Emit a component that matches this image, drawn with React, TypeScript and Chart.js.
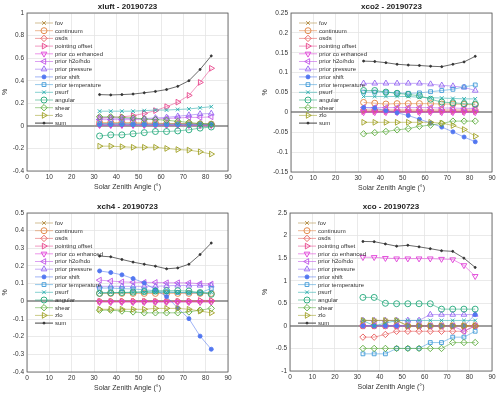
import React, { useEffect, useRef } from "react";
import { Chart, registerables } from "chart.js";
Chart.register(...registerables);

// ---------- data ----------
const sza = [32.5, 37.5, 42.5, 47.5, 52.5, 57.5, 62.5, 67.5, 72.5, 77.5, 82.5];
const seriesNames = [
  "fov", "continuum", "osds", "pointing offset", "prior co enhanced", "prior h2o/hdo",
  "prior pressure", "prior shift", "prior temperature", "psurf", "angular", "shear", "zlo", "sum",
];

// xluft
const xluftFov = [0.02, 0.02, 0.02, 0.02, 0.02, 0.02, 0.02, 0.02, 0.02, 0.02, 0.02];
const xluftContinuum = [0.03, 0.03, 0.03, 0.03, 0.025, 0.025, 0.02, 0.02, 0.02, 0.015, 0.015];
const xluftOsds = [0.01, 0.01, 0.01, 0.01, 0.01, 0.01, 0.01, 0.01, 0.01, 0.01, 0.01];
const xluftPointing = [0.07, 0.075, 0.08, 0.09, 0.11, 0.135, 0.17, 0.21, 0.27, 0.385, 0.51];
const xluftCoEnh = [0.005, 0.005, 0.005, 0.005, 0.005, 0.005, 0.005, 0.005, 0.005, 0.005, 0.005];
const xluftH2o = [0.055, 0.055, 0.055, 0.055, 0.06, 0.06, 0.065, 0.07, 0.075, 0.075, 0.08];
const xluftPressure = [0.07, 0.07, 0.065, 0.065, 0.065, 0.07, 0.075, 0.085, 0.095, 0.105, 0.11];
const xluftShift = [0.01, 0.01, 0.01, 0.01, 0.01, 0.01, 0.01, 0.01, 0.01, 0.01, 0.01];
const xluftTemp = [0.02, 0.02, 0.02, 0.015, 0.015, 0.015, 0.015, 0.015, 0.015, 0.015, 0.015];
const xluftPsurf = [0.13, 0.13, 0.13, 0.13, 0.135, 0.14, 0.14, 0.145, 0.15, 0.16, 0.17];
const xluftAngular = [-0.09, -0.08, -0.08, -0.07, -0.06, -0.05, -0.05, -0.045, -0.035, -0.02, -0.01];
const xluftShear = [0.08, 0.08, 0.075, 0.07, 0.06, 0.055, 0.05, 0.04, 0.03, 0.02, 0.015];
const xluftZlo = [-0.18, -0.18, -0.185, -0.19, -0.19, -0.19, -0.2, -0.21, -0.215, -0.23, -0.25];
const xluftSum = [0.277, 0.274, 0.277, 0.282, 0.293, 0.305, 0.322, 0.35, 0.4, 0.5, 0.62];

// xco2
const xco2Fov = [0.003, 0.003, 0.003, 0.003, 0.003, 0.003, 0.003, 0.003, 0.003, 0.003, 0.003];
const xco2Continuum = [0.025, 0.023, 0.021, 0.022, 0.022, 0.022, 0.022, 0.021, 0.021, 0.02, 0.019];
const xco2Osds = [0.006, 0.006, 0.006, 0.006, 0.006, 0.006, 0.006, 0.006, 0.006, 0.006, 0.006];
const xco2Pointing = [0.002, 0.002, 0.002, 0.002, 0.002, 0.002, 0.002, 0.002, 0.002, 0.002, 0.002];
const xco2CoEnh = [0.0, 0.0, 0.0, 0.0, 0.0, 0.0, 0.0, 0.0, 0.0, 0.0, 0.0];
const xco2H2o = [0.012, 0.012, 0.012, 0.012, 0.012, 0.012, 0.012, 0.011, 0.011, 0.01, 0.01];
const xco2Pressure = [0.073, 0.073, 0.073, 0.073, 0.073, 0.073, 0.071, 0.068, 0.066, 0.063, 0.055];
const xco2Shift = [0.012, 0.011, 0.004, -0.001, -0.008, -0.017, -0.027, -0.037, -0.049, -0.062, -0.074];
const xco2Temp = [0.051, 0.051, 0.051, 0.049, 0.048, 0.049, 0.052, 0.055, 0.058, 0.064, 0.069];
const xco2Psurf = [0.04, 0.04, 0.04, 0.04, 0.04, 0.038, 0.037, 0.036, 0.035, 0.034, 0.034];
const xco2Angular = [0.055, 0.055, 0.051, 0.048, 0.045, 0.042, 0.033, 0.026, 0.024, 0.022, 0.021];
const xco2Shear = [-0.054, -0.051, -0.048, -0.044, -0.041, -0.035, -0.032, -0.028, -0.022, -0.022, -0.022];
const xco2Zlo = [-0.025, -0.025, -0.025, -0.025, -0.025, -0.025, -0.025, -0.027, -0.033, -0.043, -0.06];
const xco2Sum = [0.129, 0.128, 0.125, 0.121, 0.119, 0.118, 0.116, 0.115, 0.121, 0.127, 0.141];

// xch4
const xch4Fov = [0.0, 0.0, 0.0, 0.0, 0.0, 0.0, 0.0, 0.0, 0.0, 0.0, 0.0];
const xch4Continuum = [0.045, 0.045, 0.045, 0.045, 0.045, 0.045, 0.045, 0.045, 0.045, 0.045, 0.045];
const xch4Osds = [0.0, 0.0, 0.0, 0.0, 0.0, 0.0, 0.0, 0.0, 0.0, 0.0, 0.0];
const xch4Pointing = [0.0, 0.0, 0.0, 0.0, 0.0, 0.0, 0.0, 0.0, 0.0, 0.005, 0.005];
const xch4CoEnh = [-0.005, -0.005, -0.005, -0.005, -0.005, -0.005, -0.005, -0.005, -0.005, -0.005, -0.005];
const xch4H2o = [0.12, 0.115, 0.11, 0.108, 0.107, 0.107, 0.105, 0.105, 0.104, 0.1, 0.098];
const xch4Pressure = [0.085, 0.085, 0.085, 0.085, 0.085, 0.085, 0.088, 0.09, 0.09, 0.09, 0.09];
const xch4Shift = [0.172, 0.163, 0.15, 0.129, 0.104, 0.066, 0.027, -0.038, -0.098, -0.197, -0.271];
const xch4Temp = [0.075, 0.075, 0.072, 0.07, 0.065, 0.06, 0.055, 0.05, 0.048, 0.048, 0.073];
const xch4Psurf = [0.05, 0.05, 0.05, 0.05, 0.05, 0.05, 0.05, 0.05, 0.05, 0.05, 0.05];
const xch4Angular = [0.045, 0.048, 0.05, 0.052, 0.055, 0.058, 0.06, 0.06, 0.058, 0.05, 0.04];
const xch4Shear = [-0.05, -0.05, -0.055, -0.06, -0.065, -0.065, -0.065, -0.065, -0.06, -0.05, -0.04];
const xch4Zlo = [-0.045, -0.045, -0.045, -0.045, -0.045, -0.04, -0.04, -0.04, -0.045, -0.055, -0.065];
const xch4Sum = [0.256, 0.252, 0.237, 0.222, 0.21, 0.199, 0.184, 0.189, 0.21, 0.265, 0.33];

// xco
const xcoFov = [0.12, 0.12, 0.12, 0.12, 0.0, 0.0, 0.0, 0.0, 0.0, 0.0, 0.0];
const xcoContinuum = [0.0, 0.0, 0.0, 0.0, 0.0, 0.0, 0.0, 0.0, 0.0, 0.0, 0.0];
const xcoOsds = [-0.25, -0.25, -0.19, -0.12, -0.12, -0.12, -0.12, -0.12, -0.12, -0.12, 0.0];
const xcoPointing = [0.0, 0.0, 0.0, 0.0, 0.0, 0.0, 0.0, 0.0, 0.0, 0.0, 0.0];
const xcoCoEnh = [1.52, 1.52, 1.5, 1.49, 1.49, 1.49, 1.49, 1.48, 1.47, 1.34, 1.1];
const xcoH2o = [0.0, 0.0, 0.0, 0.0, 0.0, 0.0, 0.0, 0.0, 0.0, -0.12, 0.0];
const xcoPressure = [0.12, 0.12, 0.12, 0.12, 0.12, 0.12, 0.25, 0.25, 0.25, 0.25, 0.25];
const xcoShift = [0.0, 0.0, 0.0, 0.0, 0.0, 0.0, 0.0, 0.0, 0.0, 0.0, 0.25];
const xcoTemp = [-0.62, -0.62, -0.62, -0.5, -0.5, -0.5, -0.37, -0.37, -0.25, -0.25, -0.12];
const xcoPsurf = [0.12, 0.0, 0.06, 0.12, 0.12, 0.12, 0.12, 0.12, 0.12, 0.12, 0.12];
const xcoAngular = [0.63, 0.63, 0.5, 0.49, 0.49, 0.49, 0.49, 0.37, 0.37, 0.37, 0.37];
const xcoShear = [-0.5, -0.5, -0.5, -0.5, -0.5, -0.5, -0.5, -0.5, -0.37, -0.37, -0.37];
const xcoZlo = [0.12, 0.12, 0.12, 0.12, 0.0, 0.0, 0.0, 0.0, 0.0, 0.0, 0.0];
const xcoSum = [1.87, 1.865, 1.815, 1.765, 1.785, 1.75, 1.71, 1.665, 1.65, 1.5, 1.295];

const panelTitles = ["xluft - 20190723", "xco2 - 20190723", "xch4 - 20190723", "xco - 20190723"];
const xTicks = [0, 10, 20, 30, 40, 50, 60, 70, 80, 90];
const yLimits = [[-0.4, 1, 0.2], [-0.15, 0.25, 0.05], [-0.4, 0.5, 0.1], [-1, 2.5, 0.5]];

const panelSeries = [
  [xluftFov, xluftContinuum, xluftOsds, xluftPointing, xluftCoEnh, xluftH2o, xluftPressure, xluftShift, xluftTemp, xluftPsurf, xluftAngular, xluftShear, xluftZlo, xluftSum],
  [xco2Fov, xco2Continuum, xco2Osds, xco2Pointing, xco2CoEnh, xco2H2o, xco2Pressure, xco2Shift, xco2Temp, xco2Psurf, xco2Angular, xco2Shear, xco2Zlo, xco2Sum],
  [xch4Fov, xch4Continuum, xch4Osds, xch4Pointing, xch4CoEnh, xch4H2o, xch4Pressure, xch4Shift, xch4Temp, xch4Psurf, xch4Angular, xch4Shear, xch4Zlo, xch4Sum],
  [xcoFov, xcoContinuum, xcoOsds, xcoPointing, xcoCoEnh, xcoH2o, xcoPressure, xcoShift, xcoTemp, xcoPsurf, xcoAngular, xcoShear, xcoZlo, xcoSum],
];

// ---------- styles ----------
const colors = [
  "#b08a40", "#e0803c", "#e65a5a", "#e8468c", "#e040d8", "#c052e6", "#9566f2",
  "#5277f0", "#3f9ad8", "#22abab", "#22a87a", "#5aac3a", "#a0a024", "#333333",
];
const markers = [
  "crossRot", "circle", "rectRot", "triangle", "triangle", "triangle", "triangle",
  "circle", "rect", "crossRot", "circle", "rectRot", "triangle", "circle",
];
const rotations = [0, 0, 0, 90, 180, 270, 0, 0, 0, 0, 0, 0, 90, 0];
const filled = [false, false, false, false, false, false, false, true, false, false, false, false, false, true];
const radii = [2.6, 3.0, 3.2, 3.3, 3.3, 3.3, 3.3, 2.0, 2.7, 2.6, 3.0, 3.2, 3.3, 1.0];

const FONT = "'Liberation Sans', Arial, sans-serif";

type Box = { left: number; right: number; top: number; bottom: number; yTitleX: number };
const boxes: Box[] = [
  { left: 27, right: 228, top: 13, bottom: 171, yTitleX: 5 },
  { left: 41, right: 242, top: 13, bottom: 172, yTitleX: 15 },
  { left: 27, right: 228, top: 16, bottom: 175, yTitleX: 5 },
  { left: 40, right: 242, top: 16, bottom: 174, yTitleX: 15 },
];
const W = 250;
const heights = [197, 197, 198, 198];

function hexA(hex: string, a: number) {
  const n = parseInt(hex.slice(1), 16);
  return `rgba(${(n >> 16) & 255},${(n >> 8) & 255},${n & 255},${a})`;
}

function drawMarker(ctx: CanvasRenderingContext2D, style: string, x: number, y: number, r: number, rotDeg: number, stroke: string, fill: boolean) {
  const rad = (rotDeg * Math.PI) / 180;
  ctx.save();
  ctx.strokeStyle = stroke;
  ctx.fillStyle = stroke;
  ctx.lineWidth = 0.9;
  ctx.beginPath();
  if (style === "circle") {
    ctx.arc(x, y, r, 0, Math.PI * 2);
  } else if (style === "triangle") {
    let a = rad;
    const T = (2 * Math.PI) / 3;
    ctx.moveTo(x + Math.sin(a) * r, y - Math.cos(a) * r);
    a += T;
    ctx.lineTo(x + Math.sin(a) * r, y - Math.cos(a) * r);
    a += T;
    ctx.lineTo(x + Math.sin(a) * r, y - Math.cos(a) * r);
    ctx.closePath();
  } else if (style === "rectRot") {
    ctx.moveTo(x, y - r);
    ctx.lineTo(x + r, y);
    ctx.lineTo(x, y + r);
    ctx.lineTo(x - r, y);
    ctx.closePath();
  } else if (style === "rect") {
    const s = r * Math.SQRT1_2;
    ctx.rect(x - s, y - s, 2 * s, 2 * s);
  } else if (style === "crossRot") {
    const s = r * Math.SQRT1_2;
    ctx.moveTo(x - s, y - s);
    ctx.lineTo(x + s, y + s);
    ctx.moveTo(x - s, y + s);
    ctx.lineTo(x + s, y - s);
  }
  if (fill) ctx.fill();
  ctx.stroke();
  ctx.restore();
}

const decorPlugin = {
  id: "decor",
  afterDraw(chart: any, _args: any, opts: any) {
    const ctx: CanvasRenderingContext2D = chart.ctx;
    const a = chart.chartArea;
    ctx.save();
    // box
    ctx.strokeStyle = "#555555";
    ctx.lineWidth = 0.8;
    ctx.strokeRect(a.left, a.top, a.right - a.left, a.bottom - a.top);
    // title
    ctx.fillStyle = "#222222";
    ctx.textAlign = "center";
    ctx.textBaseline = "middle";
    ctx.font = `bold 8px ${FONT}`;
    ctx.fillText(opts.title, (a.left + a.right) / 2, a.top - 6.5);
    // x title
    ctx.font = `7px ${FONT}`;
    ctx.fillStyle = "#333333";
    ctx.fillText("Solar Zenith Angle (°)", (a.left + a.right) / 2, a.bottom + 16.5);
    // y title
    ctx.save();
    ctx.translate(opts.yTitleX, (a.top + a.bottom) / 2);
    ctx.rotate(-Math.PI / 2);
    ctx.fillText("%", 0, 0);
    ctx.restore();
    // legend
    ctx.font = `6px ${FONT}`;
    ctx.textAlign = "left";
    seriesNames.forEach((name, i) => {
      const y = a.top + 10 + i * 7.7;
      const x0 = a.left + 8;
      const x1 = a.left + 26;
      ctx.strokeStyle = i === 13 ? "#444444" : hexA(colors[i], 0.55);
      ctx.lineWidth = 1;
      ctx.beginPath();
      ctx.moveTo(x0, y);
      ctx.lineTo(x1, y);
      ctx.stroke();
      drawMarker(ctx, markers[i], (x0 + x1) / 2, y, radii[i], rotations[i], colors[i], filled[i]);
      ctx.fillStyle = "#333333";
      ctx.fillText(name, a.left + 28, y + 0.3);
    });
    ctx.restore();
  },
};

function fmt(v: number) {
  return String(parseFloat(v.toFixed(2)));
}

function Panel({ idx }: { idx: number }) {
  const ref = useRef<HTMLCanvasElement | null>(null);
  useEffect(() => {
    const box = boxes[idx];
    const H = heights[idx];
    const [ymin, ymax, ystep] = yLimits[idx];
    const series = panelSeries[idx];
    const chart = new Chart(ref.current as HTMLCanvasElement, {
      type: "line",
      data: {
        datasets: seriesNames.map((name, i) => ({
          label: name,
          data: sza.map((x, j) => ({ x, y: series[i][j] })),
          borderColor: i === 13 ? "#444444" : hexA(colors[i], 0.55),
          borderWidth: i === 13 ? 0.8 : 1,
          pointStyle: markers[i] as any,
          pointRotation: rotations[i],
          pointRadius: radii[i],
          pointBorderColor: colors[i],
          pointBackgroundColor: filled[i] ? colors[i] : "rgba(0,0,0,0)",
          pointBorderWidth: 0.9,
          tension: 0,
          fill: false,
          order: 13 - i,
        })),
      },
      options: {
        responsive: false,
        animation: false,
        devicePixelRatio: 1,
        layout: { padding: { left: 0, top: box.top, right: W - box.right, bottom: 0 } },
        scales: {
          x: {
            type: "linear",
            min: 0,
            max: 90,
            afterBuildTicks: (s: any) => {
              s.ticks = xTicks.map((v) => ({ value: v }));
            },
            ticks: { font: { family: FONT, size: 6.5 }, color: "#333333", padding: 2, maxRotation: 0, autoSkip: false },
            grid: { color: "#e4e4e4", lineWidth: 0.8, drawTicks: false },
            border: { display: false },
            afterFit: (s: any) => {
              s.height = H - box.bottom;
            },
          },
          y: {
            type: "linear",
            min: ymin,
            max: ymax,
            ticks: {
              stepSize: ystep,
              font: { family: FONT, size: 6.5 },
              color: "#333333",
              padding: 3,
              callback: (v: any) => fmt(Number(v)),
            },
            grid: {
              color: (c: any) => (Math.abs(c.tick?.value ?? 1) < 1e-9 ? "#a0a0a0" : "#e4e4e4"),
              lineWidth: (c: any) => (Math.abs(c.tick?.value ?? 1) < 1e-9 ? 2 : 0.8),
              drawTicks: false,
            },
            border: { display: false },
            afterFit: (s: any) => {
              s.width = box.left;
            },
          },
        },
        plugins: {
          legend: { display: false },
          tooltip: { enabled: false },
          decor: { title: panelTitles[idx], yTitleX: box.yTitleX },
        } as any,
      },
      plugins: [decorPlugin],
    });
    return () => chart.destroy();
  }, [idx]);
  const top = idx < 2 ? 0 : 197;
  const left = idx % 2 === 0 ? 0 : 250;
  return (
    <canvas
      ref={ref}
      width={W}
      height={heights[idx]}
      style={{ position: "absolute", left, top, width: W, height: heights[idx] }}
    />
  );
}

export default function App() {
  return (
    <div style={{ position: "fixed", left: 0, top: 0, width: 500, height: 395, background: "#ffffff" }}>
      {[0, 1, 2, 3].map((i) => (
        <Panel key={i} idx={i} />
      ))}
    </div>
  );
}
